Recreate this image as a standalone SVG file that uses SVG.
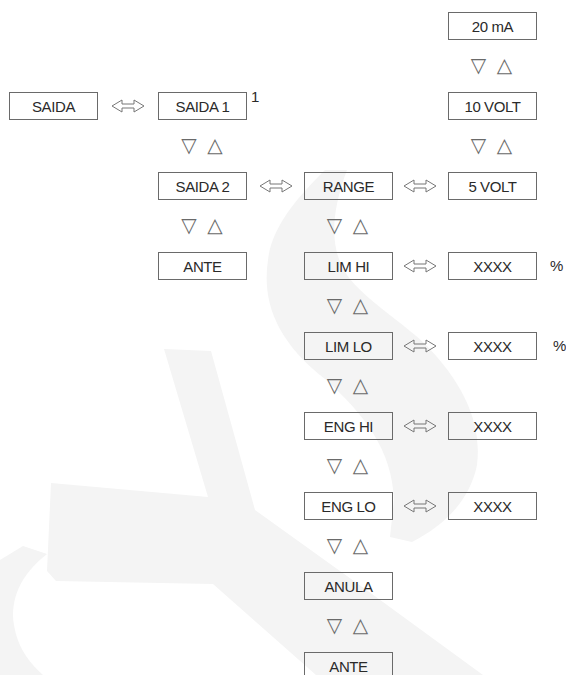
<svg xmlns="http://www.w3.org/2000/svg" width="566" height="675" viewBox="0 0 566 675">
<style>
.box{fill:none;stroke:#6a6a6a;stroke-width:1}
.lbl{font-family:"Liberation Sans",Arial,sans-serif;font-size:15px;letter-spacing:-0.4px;fill:#2a2a2a;text-anchor:middle}
.note{font-family:"Liberation Sans",Arial,sans-serif;font-size:15px;fill:#2a2a2a}
.tri{font-family:"DejaVu Sans",sans-serif;font-size:20px;fill:#6a6a6a;text-anchor:middle}
.arr{fill:none;stroke:#777;stroke-width:1;stroke-linejoin:miter}
.wm{fill:#f4f4f4;stroke:none}
</style>
<g id="watermark">
<path class="wm" d="M325,170 C300,195 272,225 268,260 C262,300 275,340 325,379 C365,415 392,450 394,500 L390,537 L412,542 C445,525 470,500 477,465 C482,425 465,385 426,345 C400,320 365,300 347,275 C330,250 330,215 347,170 Z"/>
<path class="wm" d="M164,349 L211,351 L255,510 L372,594 L483,675 L316,675 L213,584 L56,581 L47,571 L51,483 L208,497 Z"/>
<path class="wm" d="M23,546 L47,554 C20,575 10,600 14,625 C18,650 32,665 43,675 L0,675 L0,560 Z"/>
</g>
<g id="connectors">
<path class="arr" d="M112,106 L122,100 L122,104 L134,104 L134,100 L144,106 L134,112 L134,108 L122,108 L122,112 Z"/>
<path class="arr" d="M260,186 L270,180 L270,184 L282,184 L282,180 L292,186 L282,192 L282,188 L270,188 L270,192 Z"/>
<path class="arr" d="M404,186 L414,180 L414,184 L426,184 L426,180 L436,186 L426,192 L426,188 L414,188 L414,192 Z"/>
<path class="arr" d="M404,266 L414,260 L414,264 L426,264 L426,260 L436,266 L426,272 L426,268 L414,268 L414,272 Z"/>
<path class="arr" d="M404,346 L414,340 L414,344 L426,344 L426,340 L436,346 L426,352 L426,348 L414,348 L414,352 Z"/>
<path class="arr" d="M404,426 L414,420 L414,424 L426,424 L426,420 L436,426 L426,432 L426,428 L414,428 L414,432 Z"/>
<path class="arr" d="M404,506 L414,500 L414,504 L426,504 L426,500 L436,506 L426,512 L426,508 L414,508 L414,512 Z"/>
</g>
<g id="nav">
<text class="tri" x="478.5" y="72">▽</text><text class="tri" x="504.5" y="72">△</text>
<text class="tri" x="478.5" y="152">▽</text><text class="tri" x="504.5" y="152">△</text>
<text class="tri" x="189" y="152">▽</text><text class="tri" x="215" y="152">△</text>
<text class="tri" x="189" y="232">▽</text><text class="tri" x="215" y="232">△</text>
<text class="tri" x="334.5" y="232">▽</text><text class="tri" x="360.5" y="232">△</text>
<text class="tri" x="334.5" y="312">▽</text><text class="tri" x="360.5" y="312">△</text>
<text class="tri" x="334.5" y="392">▽</text><text class="tri" x="360.5" y="392">△</text>
<text class="tri" x="334.5" y="472">▽</text><text class="tri" x="360.5" y="472">△</text>
<text class="tri" x="334.5" y="552">▽</text><text class="tri" x="360.5" y="552">△</text>
<text class="tri" x="334.5" y="632">▽</text><text class="tri" x="360.5" y="632">△</text>
</g>
<g id="n-saida"><rect class="box" x="9.5" y="92.5" width="88" height="27"/><text class="lbl" x="53.5" y="112">SAIDA</text></g>
<g id="n-saida1"><rect class="box" x="158.5" y="92.5" width="88" height="27"/><text class="lbl" x="202.5" y="112">SAIDA 1</text><text class="note" x="251" y="102">1</text></g>
<g id="n-saida2"><rect class="box" x="158.5" y="172.5" width="88" height="27"/><text class="lbl" x="202.5" y="192">SAIDA 2</text></g>
<g id="n-ante1"><rect class="box" x="158.5" y="252.5" width="88" height="27"/><text class="lbl" x="202.5" y="272">ANTE</text></g>
<g id="n-range"><rect class="box" x="304.5" y="172.5" width="88" height="27"/><text class="lbl" x="348.5" y="192">RANGE</text></g>
<g id="n-limhi"><rect class="box" x="304.5" y="252.5" width="88" height="27"/><text class="lbl" x="348.5" y="272">LIM HI</text></g>
<g id="n-limlo"><rect class="box" x="304.5" y="332.5" width="88" height="27"/><text class="lbl" x="348.5" y="352">LIM LO</text></g>
<g id="n-enghi"><rect class="box" x="304.5" y="412.5" width="88" height="27"/><text class="lbl" x="348.5" y="432">ENG HI</text></g>
<g id="n-englo"><rect class="box" x="304.5" y="492.5" width="88" height="27"/><text class="lbl" x="348.5" y="512">ENG LO</text></g>
<g id="n-anula"><rect class="box" x="304.5" y="572.5" width="88" height="27"/><text class="lbl" x="348.5" y="592">ANULA</text></g>
<g id="n-ante2"><rect class="box" x="304.5" y="652.5" width="88" height="27"/><text class="lbl" x="348.5" y="672">ANTE</text></g>
<g id="n-20ma"><rect class="box" x="448.5" y="12.5" width="88" height="27"/><text class="lbl" x="492.5" y="32">20 mA</text></g>
<g id="n-10volt"><rect class="box" x="448.5" y="92.5" width="88" height="27"/><text class="lbl" x="492.5" y="112">10 VOLT</text></g>
<g id="n-5volt"><rect class="box" x="448.5" y="172.5" width="88" height="27"/><text class="lbl" x="492.5" y="192">5 VOLT</text></g>
<g id="n-limhi-val"><rect class="box" x="448.5" y="252.5" width="88" height="27"/><text class="lbl" x="492.5" y="272">XXXX</text><text class="note" x="550" y="271">%</text></g>
<g id="n-limlo-val"><rect class="box" x="448.5" y="332.5" width="88" height="27"/><text class="lbl" x="492.5" y="352">XXXX</text><text class="note" x="553" y="351">%</text></g>
<g id="n-enghi-val"><rect class="box" x="448.5" y="412.5" width="88" height="27"/><text class="lbl" x="492.5" y="432">XXXX</text></g>
<g id="n-englo-val"><rect class="box" x="448.5" y="492.5" width="88" height="27"/><text class="lbl" x="492.5" y="512">XXXX</text></g>
</svg>
